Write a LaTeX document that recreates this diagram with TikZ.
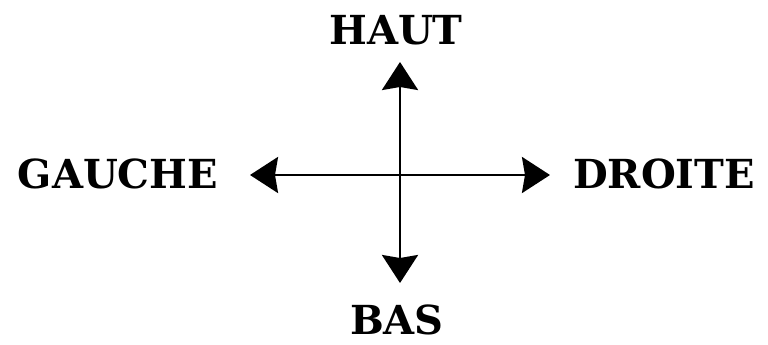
\documentclass[tikz,border=0pt]{standalone}
\usepackage{fontspec}
\setmainfont{DejaVu Serif}
\usetikzlibrary{arrows.meta}
\tikzset{
  lbl/.style={font=\fontsize{40}{40}\selectfont\bfseries, inner sep=0pt, text=black},
  dir/.style={line width=2.6pt, {Stealth[length=28pt,width=36pt,inset=3pt]}-{Stealth[length=28pt,width=36pt,inset=3pt]}}
}
\begin{document}
\begin{tikzpicture}[x=1pt,y=-1pt]
\useasboundingbox (0,0) rectangle (768,345);
\node[lbl] (haut) at (396,30) {HAUT};
\node[lbl] (bas) at (397,320) {BAS};
\node[lbl] (gauche) at (118,174) {GAUCHE};
\node[lbl] (droite) at (664,174) {DROITE};
\coordinate (top) at (400,62);
\coordinate (bottom) at (400,283);
\coordinate (left) at (250,175);
\coordinate (right) at (550,175);
\draw[dir] (top) -- (bottom);
\draw[dir] (left) -- (right);
\end{tikzpicture}
\end{document}
